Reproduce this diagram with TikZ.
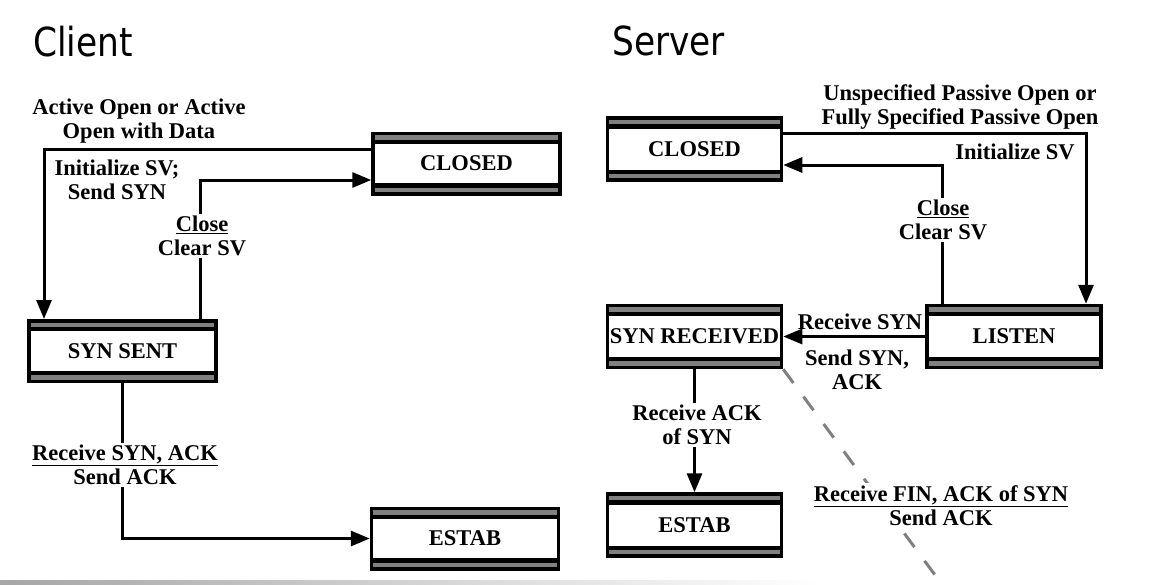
\documentclass[tikz,border=0pt]{standalone}
\usepackage{fontspec}
\setmainfont{Liberation Serif}
\newfontfamily\titlefont[FakeStretch=0.86]{DejaVu Sans}
\usetikzlibrary{arrows.meta}
\tikzset{
  ppb/.style={},
  statebox/.style={draw=black, line width=3.5pt, fill=white, inner sep=0pt,
    font=\fontsize{22.5}{24}\selectfont\bfseries,
    path picture={
      \fill[black] (path picture bounding box.north west) rectangle ([yshift=-10.5pt]path picture bounding box.north east);
      \fill[gray] ([yshift=-1.75pt]path picture bounding box.north west) rectangle ([yshift=-6.25pt]path picture bounding box.north east);
      \fill[black] (path picture bounding box.south west) rectangle ([yshift=10.5pt]path picture bounding box.south east);
      \fill[gray] ([yshift=1.75pt]path picture bounding box.south west) rectangle ([yshift=6.25pt]path picture bounding box.south east);
      \fill[white] ([yshift=-10.5pt]path picture bounding box.north west) rectangle ([yshift=10.5pt]path picture bounding box.south east);
    }},
  cbox/.style={statebox, minimum width=187pt, minimum height=60.5pt},
  sbox/.style={statebox, minimum width=174pt, minimum height=62pt},
  arr/.style={line width=3pt, -{Triangle[length=19pt,width=15pt]}},
  lbl/.style={font=\fontsize{22.5}{24}\selectfont\bfseries, align=center, inner sep=2pt},
  wlbl/.style={lbl, fill=white},
  title/.style={font=\titlefont\fontsize{40}{40}\selectfont, inner sep=0pt, anchor=base west},
  dashline/.style={gray, line width=3pt, dash pattern=on 17pt off 17pt}
}
\begin{document}
\begin{tikzpicture}[x=1pt,y=-1pt]
\useasboundingbox[fill=white] (0,0) rectangle (1155,584);

% titles
\node[title] (tclient) at (33,56) {Client};
\node[title] (tserver) at (612,55) {Server};

% client states
\node[cbox] (cclosed) at (466.5,163.5) {CLOSED};
\node[cbox] (synsent) at (122.5,351) {SYN SENT};
\node[cbox] (cestab) at (465,538.5) {ESTAB};

% server states
\node[sbox] (sclosed) at (694.5,149) {CLOSED};
\node[sbox] (synrcvd) at (694.5,336.5) {SYN RECEIVED};
\node[sbox] (listen) at (1014,336.5) {LISTEN};
\node[sbox] (sestab) at (694.5,525) {ESTAB};

% client connectors
\draw[arr] ([yshift=14.5pt]cclosed.west) -| ([xshift=-78.5pt]synsent.north);
\draw[arr] ([xshift=77.5pt]synsent.north) |- ([yshift=-16.5pt]cclosed.west);
\draw[arr] (synsent.south) |- (cestab.west);

% server connectors
\draw[arr] ([yshift=16pt]sclosed.east) -| ([xshift=72pt]listen.north);
\draw[arr] ([xshift=-72pt]listen.north) |- ([yshift=-16pt]sclosed.east);
\draw[arr] (listen.west) -- (synrcvd.east);
\draw[arr] (synrcvd.south) -- (sestab.north);
\coordinate (finend) at (935,575);
\draw[dashline] (synrcvd.south east) -- (finend);

% client labels
\node[lbl] (l1) at (139,121) {Active Open or Active\\Open with Data};
\node[lbl] (l2) at (117,180) {Initialize SV;\\Send SYN};
\node[wlbl] (l3) at (202,236) {\underline{Close}\\Clear SV};
\node[wlbl] (l4) at (125,465) {\underline{Receive SYN, ACK}\\Send ACK};

% server labels
\node[lbl] (l5) at (960,107) {Unspecified Passive Open or\\Fully Specified Passive Open};
\node[lbl] (l6) at (1015,152) {Initialize SV};
\node[wlbl] (l7) at (943,220) {\underline{Close}\\Clear SV};
\node[lbl] (l8) at (860,322) {Receive SYN};
\node[lbl] (l9) at (857,369.5) {Send SYN,\\ACK};
\node[wlbl] (l10) at (697,425) {Receive ACK\\of SYN};
\node[wlbl] (l11) at (941,505.5) {\underline{Receive FIN, ACK of SYN}\\Send ACK};

% bottom strip
\shade[left color=gray!70, right color=white] (0,580.5) rectangle (820,584);
\end{tikzpicture}
\end{document}
